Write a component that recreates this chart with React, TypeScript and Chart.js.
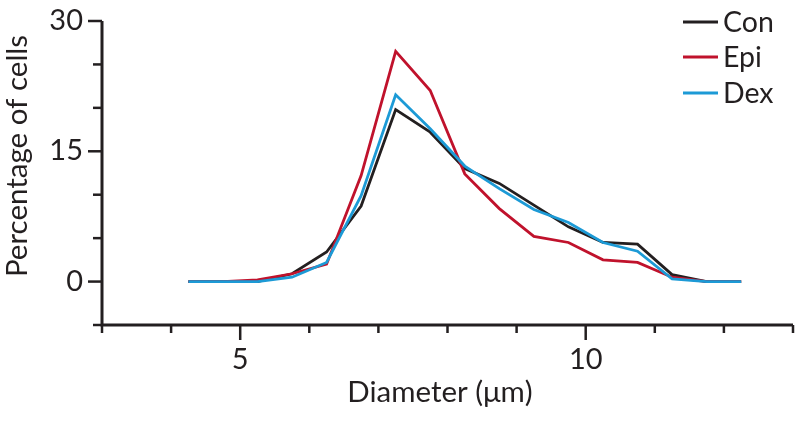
import React, { useEffect, useRef } from "react";
import { Chart, registerables } from "chart.js";

Chart.register(...registerables);

const xValues = [4.25, 4.75, 5.25, 5.75, 6.25, 6.75, 7.25, 7.75, 8.25, 8.75, 9.25, 9.75, 10.25, 10.75, 11.25, 11.75, 12.25];
const conValues = [0, 0, 0, 0.9, 3.4, 8.7, 19.8, 17.2, 13.0, 11.3, 8.8, 6.3, 4.5, 4.3, 0.8, 0, 0];
const epiValues = [0, 0, 0.2, 0.9, 2.0, 12.2, 26.5, 22.0, 12.4, 8.4, 5.2, 4.5, 2.5, 2.2, 0.5, 0, 0];
const dexValues = [0, 0, 0, 0.5, 2.2, 9.9, 21.5, 17.6, 13.3, 10.7, 8.3, 6.8, 4.5, 3.5, 0.3, 0, 0];

const seriesNames = ["Con", "Epi", "Dex"];
const seriesColors = ["#231f20", "#c0122c", "#1c9ad6"];

const xTicks = [3, 4, 5, 6, 7, 8, 9, 10, 11, 12, 13];
const xLabels = [5, 10];
const yTicks = [-5, 0, 5, 10, 15, 20, 25, 30];
const yLabels = [0, 15, 30];

const xTitle = "Diameter (\u03bcm)";
const yTitle = "Percentage of cells";

const TICK_FONT = "29px Lato";
const TITLE_FONT = "29.5px Lato";
const LEGEND_FONT = "28.5px Lato";
const INK = "#231f20";

const axesPlugin = {
  id: "customAxes",
  beforeDatasetsDraw(chart: any) {
    const ctx = chart.ctx;
    const xs = chart.scales.x;
    const ys = chart.scales.y;
    const left = xs.getPixelForValue(xs.min);
    const right = xs.getPixelForValue(xs.max);
    const top = ys.getPixelForValue(ys.max);
    const bottom = ys.getPixelForValue(ys.min);
    ctx.save();
    ctx.strokeStyle = INK;
    ctx.lineWidth = 3;
    ctx.lineCap = "butt";
    ctx.beginPath();
    ctx.moveTo(left, top);
    ctx.lineTo(left, bottom);
    ctx.lineTo(right, bottom);
    ctx.stroke();
    ctx.lineWidth = 2.5;
    for (const t of yTicks) {
      const y = ys.getPixelForValue(t);
      const len = yLabels.includes(t) ? 14 : 9;
      ctx.beginPath();
      ctx.moveTo(left, y);
      ctx.lineTo(left - len, y);
      ctx.stroke();
    }
    for (const t of xTicks) {
      const x = xs.getPixelForValue(t);
      const len = xLabels.includes(t) ? 15 : 8;
      ctx.beginPath();
      ctx.moveTo(x, bottom);
      ctx.lineTo(x, bottom + len);
      ctx.stroke();
    }
    ctx.restore();
  },
  afterDraw(chart: any) {
    const ctx = chart.ctx;
    const xs = chart.scales.x;
    const ys = chart.scales.y;
    const left = xs.getPixelForValue(xs.min);
    const bottom = ys.getPixelForValue(ys.min);
    ctx.save();
    ctx.fillStyle = INK;
    ctx.font = TICK_FONT;
    ctx.textBaseline = "alphabetic";
    ctx.textAlign = "right";
    for (const t of yLabels) {
      ctx.fillText(String(t), left - 19, ys.getPixelForValue(t) + 9);
    }
    ctx.textAlign = "center";
    for (const t of xLabels) {
      ctx.fillText(String(t), xs.getPixelForValue(t), bottom + 44);
    }
    ctx.font = TITLE_FONT;
    ctx.fillText(xTitle, 440, 402);
    ctx.save();
    ctx.translate(27, 156);
    ctx.rotate(-Math.PI / 2);
    ctx.textAlign = "center";
    ctx.fillText(yTitle, 0, 0);
    ctx.restore();
    // legend
    const legendY = [22, 57, 93];
    ctx.font = LEGEND_FONT;
    ctx.textAlign = "left";
    ctx.textBaseline = "middle";
    seriesNames.forEach((name, i) => {
      ctx.strokeStyle = seriesColors[i];
      ctx.lineWidth = 3;
      ctx.beginPath();
      ctx.moveTo(683, legendY[i]);
      ctx.lineTo(718, legendY[i]);
      ctx.stroke();
      ctx.fillStyle = INK;
      ctx.fillText(name, 723, legendY[i] + 1);
    });
    ctx.restore();
  },
};

export default function App() {
  const ref = useRef<HTMLCanvasElement | null>(null);
  useEffect(() => {
    if (!ref.current) return;
    const series = [conValues, epiValues, dexValues];
    const chart = new Chart(ref.current, {
      type: "line",
      data: {
        datasets: series.map((vals, i) => ({
          label: seriesNames[i],
          data: xValues.map((x, j) => ({ x, y: vals[j] })),
          borderColor: seriesColors[i],
          backgroundColor: seriesColors[i],
          borderWidth: 2.8,
          pointRadius: 0,
          tension: 0,
          fill: false,
          order: i === 2 ? 0 : i === 1 ? 1 : 2,
        })),
      },
      options: {
        responsive: false,
        animation: false,
        devicePixelRatio: 1,
        layout: { padding: { left: 102, right: 3, top: 21, bottom: 123 } },
        plugins: { legend: { display: false }, tooltip: { enabled: false } },
        scales: {
          x: { type: "linear", min: 3, max: 13, display: false },
          y: { type: "linear", min: -5, max: 30, display: false },
        },
      },
      plugins: [axesPlugin],
    });
    return () => chart.destroy();
  }, []);
  return (
    <div style={{ position: "fixed", left: 0, top: 0, width: 796, height: 448, background: "#fff" }}>
      <canvas ref={ref} width={796} height={448} />
    </div>
  );
}
